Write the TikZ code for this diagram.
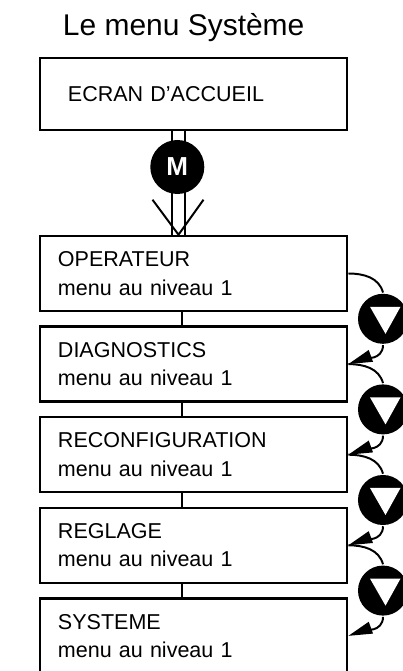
\documentclass[tikz,border=0pt]{standalone}
\usepackage{fontspec}
\setmainfont{Liberation Sans}
\usepackage{tikz}
\usetikzlibrary{arrows.meta}
\usetikzlibrary{positioning}

\begin{document}
\begin{tikzpicture}[
    x=0.025cm, y=0.025cm,
    every path/.style={line width=1.8pt},
    menubox/.style={draw, rectangle, minimum width=7.675cm, minimum height=1.875cm,
      text width=6.775cm, inner xsep=0.45cm, align=left,
      font=\fontsize{15.3}{20.3}\selectfont},
    homebox/.style={menubox, minimum height=1.8cm, text width=6.275cm, inner xsep=0.7cm},
    mkey/.style={circle, fill=black, minimum size=1.35cm, inner sep=0pt,
      text=white, font=\fontsize{18.5}{20}\selectfont\bfseries},
    downkey/.style={circle, fill=black, minimum size=1.25cm, inner sep=0pt,
      path picture={\fill[white] (path picture bounding box.center)
        ++(-0.325cm,0.3cm) -- ++(0.7625cm,0) -- ++(-0.375cm,-0.675cm) -- cycle;}},
    keyarr/.style={->, line width=1.4pt},
    keyline/.style={line width=1.4pt},
  ]
  \tikzset{>={Triangle[length=0.6cm, width=0.3cm]}}
  \useasboundingbox (0,0) rectangle (402,671);

  % Title
  \node[anchor=base, font=\fontsize{21.3}{24}\selectfont] (ttl) at (183.7, 635) {Le menu Système};

  % Nodes
  \node[homebox] (ecran) at (193.5, 577) {ECRAN D’ACCUEIL};
  \node[menubox] (oper) at (193.5, 397.5) {OPERATEUR\\menu au niveau 1};
  \node[menubox] (diag) at (193.5, 306.9) {DIAGNOSTICS\\menu au niveau 1};
  \node[menubox] (reco) at (193.5, 216.3) {RECONFIGURATION\\menu au niveau 1};
  \node[menubox] (regl) at (193.5, 125.7) {REGLAGE\\menu au niveau 1};
  \node[menubox] (syst) at (193.5, 35.1) {SYSTEME\\menu au niveau 1};

  \node[downkey] (c1) at (383, 352.2) {};
  \node[downkey] (c2) at (383, 261.6) {};
  \node[downkey] (c3) at (383, 171) {};
  \node[downkey] (c4) at (383, 80.4) {};

  % M key, double arrow
  \coordinate (mtip) at ([xshift=-0.375cm]oper.north);
  \draw[keyline, double, double distance=0.275cm] ([xshift=-0.375cm]ecran.south) -- (mtip);
  \draw[keyline] ([shift={(-26,35)}]mtip) -- (mtip) -- ([shift={(25,35)}]mtip);
  \node[mkey] (m) at (177.3, 504) {M};

  % Links between boxes
  \draw ([xshift=-0.2875cm]oper.south) -- ([xshift=-0.2875cm]diag.north);
  \draw ([xshift=-0.2875cm]diag.south) -- ([xshift=-0.2875cm]reco.north);
  \draw ([xshift=-0.2875cm]reco.south) -- ([xshift=-0.2875cm]regl.north);
  \draw ([xshift=-0.2875cm]regl.south) -- ([xshift=-0.2875cm]syst.north);

  % Down key arrows
  \draw[keyline] (oper.east) to[out=0, in=105] (c1.north);
  \draw[keyarr] (c1.south) to[out=-90, in=20] (diag.east);
  \draw[keyline] (diag.east) to[out=0, in=105] (c2.north);
  \draw[keyarr] (c2.south) to[out=-90, in=20] (reco.east);
  \draw[keyline] (reco.east) to[out=0, in=105] (c3.north);
  \draw[keyarr] (c3.south) to[out=-90, in=20] (regl.east);
  \draw[keyline] (regl.east) to[out=0, in=105] (c4.north);
  \draw[keyarr] (c4.south) to[out=-90, in=20] (syst.east);

\end{tikzpicture}
\end{document}
